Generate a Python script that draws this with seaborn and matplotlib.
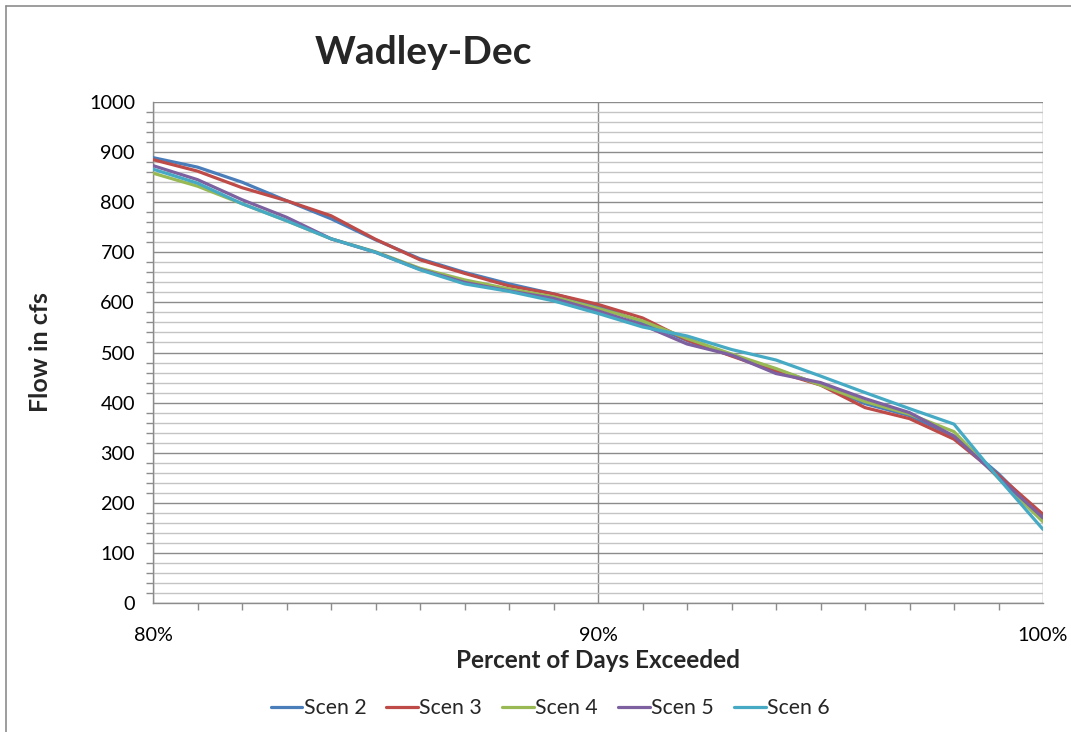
import matplotlib
matplotlib.use("Agg")
import matplotlib.pyplot as plt
from matplotlib.lines import Line2D
from matplotlib.ticker import MultipleLocator, FuncFormatter
import seaborn as sns
import pandas as pd

# Flow-duration values for December at Wadley (cfs) by exceedance percentage
percent = [80, 81, 82, 83, 84, 85, 86, 87, 88, 89, 90,
           91, 92, 93, 94, 95, 96, 97, 98, 99, 100]
scen2 = [889, 870, 840, 803, 767, 725, 687, 660, 637, 617, 593,
         560, 524, 494, 466, 436, 398, 374, 333, 258, 169]
scen3 = [885, 862, 829, 803, 773, 726, 685, 658, 633, 617, 596,
         569, 525, 493, 462, 435, 390, 368, 327, 255, 177]
scen4 = [858, 832, 797, 763, 727, 701, 668, 645, 627, 611, 588,
         563, 528, 497, 468, 435, 402, 377, 342, 249, 162]
scen5 = [873, 845, 805, 770, 727, 700, 666, 640, 623, 608, 583,
         555, 517, 495, 458, 440, 408, 380, 333, 251, 170]
scen6 = [866, 838, 797, 763, 727, 700, 665, 637, 622, 603, 578,
         551, 533, 506, 485, 453, 420, 388, 357, 249, 147]

series_names = ["Scen 2", "Scen 3", "Scen 4", "Scen 5", "Scen 6"]
series_values = [scen2, scen3, scen4, scen5, scen6]
colors = ["#4A7EBB", "#BE4B48", "#98B954", "#7D60A0", "#46AAC5"]

df = pd.concat(
    [pd.DataFrame({"percent": percent, "flow": vals, "scenario": name})
     for name, vals in zip(series_names, series_values)],
    ignore_index=True,
)

sns.set_theme(style="white")
plt.rcParams["font.family"] = ["Lato", "DejaVu Sans"]

W, H = 1071, 732
fig = plt.figure(figsize=(W / 100, H / 100), dpi=100)
ax = fig.add_axes([153 / W, 1 - 603 / H, (1043 - 153) / W, (603 - 102) / H])

sns.lineplot(data=df, x="percent", y="flow", hue="scenario",
             palette=dict(zip(series_names, colors)), linewidth=2.3,
             legend=False, ax=ax, zorder=3)

ax.set_xlim(80, 100)
ax.set_ylim(0, 1000)

# Gridlines: light every 20 cfs, darker every 100 cfs, vertical at each 10 %
ax.yaxis.set_major_locator(MultipleLocator(100))
ax.yaxis.set_minor_locator(MultipleLocator(20))
ax.xaxis.set_major_locator(MultipleLocator(10))
ax.xaxis.set_minor_locator(MultipleLocator(1))
ax.grid(which="minor", axis="y", color="#C4C4C4", linewidth=1.0, zorder=0)
ax.grid(which="major", axis="y", color="#8C8C8C", linewidth=1.0, zorder=1)
ax.grid(which="major", axis="x", color="#8C8C8C", linewidth=1.0, zorder=1)
ax.set_axisbelow(True)

ax.xaxis.set_major_formatter(FuncFormatter(lambda v, p: f"{v:.0f}%"))
ax.tick_params(axis="both", which="major", direction="out", length=6,
               width=1, color="#8C8C8C", labelsize=14.3, labelcolor="black")
ax.tick_params(axis="both", which="minor", direction="out", length=5,
               width=1, color="#8C8C8C")
ax.tick_params(axis="x", which="major", pad=11)
ax.tick_params(axis="y", which="major", pad=7)
ax.tick_params(axis="x", which="minor", bottom=True)
ax.tick_params(axis="y", which="minor", left=True)

for side in ["top", "right"]:
    ax.spines[side].set_visible(False)
for side in ["left", "bottom"]:
    ax.spines[side].set_color("#8C8C8C")
    ax.spines[side].set_linewidth(1.0)

ax.set_xlabel("Percent of Days Exceeded", fontsize=17.5, fontweight="bold")
ax.set_ylabel("Flow in cfs", fontsize=18, fontweight="bold")
ax.xaxis.set_label_coords(0.5, (603 - 661) / 501)
ax.yaxis.set_label_coords((40 - 153) / 890, 0.5)
ax.xaxis.label.set_va("center")
ax.yaxis.label.set_va("center")

fig.text(423 / W, 1 - 52 / H, "Wadley-Dec", fontsize=28, fontweight="bold",
         ha="center", va="center")

handles = [Line2D([], [], color=c, linewidth=2.3) for c in colors]
fig.legend(handles, series_names, loc="center", bbox_to_anchor=(550 / W, 1 - 708 / H),
           ncol=5, frameon=False, fontsize=15.3, handlelength=1.5,
           handletextpad=0.05, columnspacing=0.95)

# Chart border along the top and left edges
fig.add_artist(Line2D([6 / W, 1], [1 - 6 / H, 1 - 6 / H], color="#8C8C8C",
                      linewidth=1.2, transform=fig.transFigure))
fig.add_artist(Line2D([6 / W, 6 / W], [0, 1 - 6 / H], color="#8C8C8C",
                      linewidth=1.2, transform=fig.transFigure))

fig.savefig("out.png", dpi=100)
